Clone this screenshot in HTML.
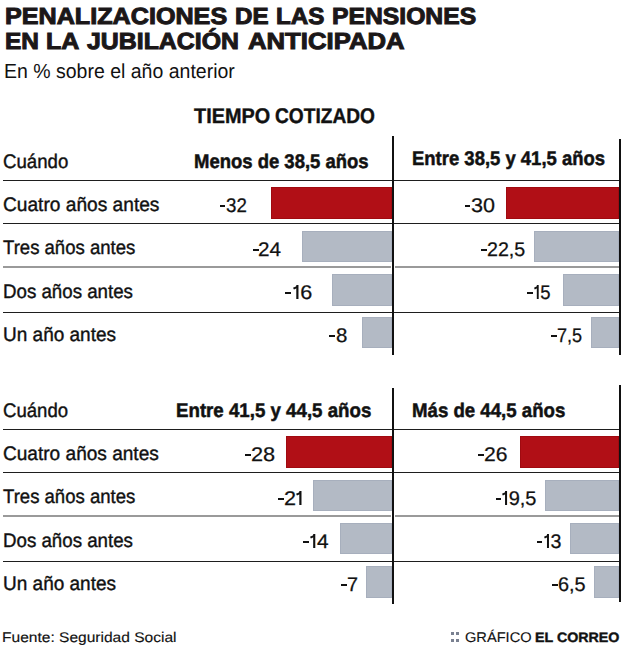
<!DOCTYPE html><html><head><meta charset="utf-8"><style>
*{margin:0;padding:0;box-sizing:border-box}
html,body{width:624px;height:646px;background:#fff;overflow:hidden}
body{position:relative;font-family:"Liberation Sans",sans-serif}
.t{position:absolute;text-rendering:geometricPrecision;white-space:nowrap;line-height:1;transform-origin:0 0}
.b{position:absolute}
.red{background:#b10f16;box-shadow:inset 0 0 0 1px #a00a10}
.gry{background:#b3bac5;box-shadow:inset 0 0 0 1px #a7afbd}
.hl{position:absolute;height:1px;background:#1e1e1e}
.gl{position:absolute;height:2px;background:#9a9a9a}
.sq{position:absolute;width:3px;height:3px;background:#7a8191}
.hy{position:absolute;background:#111}
.vl{position:absolute;width:2px;background:#111}
.one{display:inline-block;position:relative;width:6.6px;height:14px;vertical-align:baseline}
.one i{position:absolute;left:3.3px;bottom:0;width:2px;height:13.8px;background:currentColor}
.one b{position:absolute;left:-0.5px;bottom:11.95px;width:3.8px;height:1.7px;background:currentColor;transform:rotate(-25deg);transform-origin:100% 50%}

</style></head><body>
<div class="t" id="t1_0" style="left:4.92px;top:5.19px;font-size:23.40px;font-weight:700;color:#1b1718;transform:scaleX(1.0751);-webkit-text-stroke:1.00px #1b1718">PENALIZACIONES</div>
<div class="t" id="t1_1" style="left:235.47px;top:5.19px;font-size:23.40px;font-weight:700;color:#1b1718;transform:scaleX(1.0323);-webkit-text-stroke:1.00px #1b1718">DE</div>
<div class="t" id="t1_2" style="left:276.47px;top:5.19px;font-size:23.40px;font-weight:700;color:#1b1718;transform:scaleX(1.0351);-webkit-text-stroke:1.00px #1b1718">LAS</div>
<div class="t" id="t1_3" style="left:331.95px;top:5.19px;font-size:23.40px;font-weight:700;color:#1b1718;transform:scaleX(1.0563);-webkit-text-stroke:1.00px #1b1718">PENSIONES</div>
<div class="t" id="t2_0" style="left:4.95px;top:30.19px;font-size:23.40px;font-weight:700;color:#1b1718;transform:scaleX(1.0452);-webkit-text-stroke:1.00px #1b1718">EN</div>
<div class="t" id="t2_1" style="left:46.44px;top:30.19px;font-size:23.40px;font-weight:700;color:#1b1718;transform:scaleX(1.0672);-webkit-text-stroke:1.00px #1b1718">LA</div>
<div class="t" id="t2_2" style="left:87.02px;top:30.19px;font-size:23.40px;font-weight:700;color:#1b1718;transform:scaleX(1.0630);-webkit-text-stroke:1.00px #1b1718">JUBILACIÓN</div>
<div class="t" id="t2_3" style="left:247.96px;top:30.19px;font-size:23.40px;font-weight:700;color:#1b1718;transform:scaleX(1.0986);-webkit-text-stroke:1.00px #1b1718">ANTICIPADA</div>
<div class="t" id="sub" style="left:4.08px;top:61.77px;font-size:20.35px;font-weight:400;color:#111;transform:scaleX(0.9582);-webkit-text-stroke:0.00px #111">En % sobre el año anterior</div>
<div class="t" id="tc" style="left:194.00px;top:106.03px;font-size:21.22px;font-weight:700;color:#111;transform:scaleX(0.9358);-webkit-text-stroke:0.40px #111">TIEMPO</div>
<div class="t" id="tc2" style="left:274.54px;top:106.03px;font-size:21.22px;font-weight:700;color:#111;transform:scaleX(0.9019);-webkit-text-stroke:0.40px #111">COTIZADO</div>
<div class="t" id="c1" style="left:3.01px;top:153.39px;font-size:19.62px;font-weight:400;color:#111;transform:scaleX(0.9502);-webkit-text-stroke:0.40px #111">Cuándo</div>
<div class="t" id="h1" style="left:194.06px;top:153.26px;font-size:19.77px;font-weight:700;color:#111;transform:scaleX(0.9351);-webkit-text-stroke:0.50px #111">Menos de 38,5 años</div>
<div class="t" id="h2" style="left:411.57px;top:150.26px;font-size:19.77px;font-weight:700;color:#111;transform:scaleX(0.9346);-webkit-text-stroke:0.50px #111">Entre 38,5 y 41,5 años</div>
<div class="t" id="ra0" style="left:2.52px;top:196.39px;font-size:19.62px;font-weight:400;color:#111;transform:scaleX(0.9761);-webkit-text-stroke:0.40px #111">Cuatro años antes</div>
<div class="t" id="ra1" style="left:3.48px;top:239.39px;font-size:19.62px;font-weight:400;color:#111;transform:scaleX(0.9457);-webkit-text-stroke:0.40px #111">Tres años antes</div>
<div class="t" id="ra2" style="left:2.58px;top:283.39px;font-size:19.62px;font-weight:400;color:#111;transform:scaleX(0.9538);-webkit-text-stroke:0.40px #111">Dos años antes</div>
<div class="t" id="ra3" style="left:2.52px;top:326.39px;font-size:19.62px;font-weight:400;color:#111;transform:scaleX(0.9690);-webkit-text-stroke:0.40px #111">Un año antes</div>
<div class="t" id="vtl0" style="left:226.01px;top:197.26px;font-size:19.77px;font-weight:400;color:#111;transform:scaleX(0.9459);-webkit-text-stroke:0.25px #111">32</div>
<div class="t" id="vtl1" style="left:258.44px;top:241.26px;font-size:19.77px;font-weight:400;color:#111;transform:scaleX(1.0476);-webkit-text-stroke:0.25px #111">24</div>
<div class="t" id="vtl2" style="left:292.51px;top:284.26px;font-size:19.77px;font-weight:400;color:#111;transform:scaleX(1.0943);-webkit-text-stroke:0.25px #111"><span class="one"><i></i><b></b></span>6</div>
<div class="t" id="vtl3" style="left:336.42px;top:327.26px;font-size:19.77px;font-weight:400;color:#111;transform:scaleX(1.0335);-webkit-text-stroke:0.25px #111">8</div>
<div class="t" id="vtr0" style="left:470.87px;top:197.26px;font-size:19.77px;font-weight:400;color:#111;transform:scaleX(1.0910);-webkit-text-stroke:0.25px #111">30</div>
<div class="t" id="vtr1" style="left:487.26px;top:241.26px;font-size:19.77px;font-weight:400;color:#111;transform:scaleX(0.9949);-webkit-text-stroke:0.25px #111">22,5</div>
<div class="t" id="vtr2" style="left:533.87px;top:284.26px;font-size:19.77px;font-weight:400;color:#111;transform:scaleX(0.9378);-webkit-text-stroke:0.25px #111"><span class="one"><i></i><b></b></span>5</div>
<div class="t" id="vtr3" style="left:556.52px;top:327.26px;font-size:19.77px;font-weight:400;color:#111;transform:scaleX(0.9159);-webkit-text-stroke:0.25px #111">7,5</div>
<div class="t" id="c2" style="left:3.01px;top:402.39px;font-size:19.62px;font-weight:400;color:#111;transform:scaleX(0.9472);-webkit-text-stroke:0.40px #111">Cuándo</div>
<div class="t" id="h3" style="left:175.56px;top:402.26px;font-size:19.77px;font-weight:700;color:#111;transform:scaleX(0.9454);-webkit-text-stroke:0.50px #111">Entre 41,5 y 44,5 años</div>
<div class="t" id="h4" style="left:412.07px;top:402.26px;font-size:19.77px;font-weight:700;color:#111;transform:scaleX(0.9429);-webkit-text-stroke:0.50px #111">Más de 44,5 años</div>
<div class="t" id="rb0" style="left:2.52px;top:445.39px;font-size:19.62px;font-weight:400;color:#111;transform:scaleX(0.9723);-webkit-text-stroke:0.40px #111">Cuatro años antes</div>
<div class="t" id="rb1" style="left:3.48px;top:488.39px;font-size:19.62px;font-weight:400;color:#111;transform:scaleX(0.9457);-webkit-text-stroke:0.40px #111">Tres años antes</div>
<div class="t" id="rb2" style="left:2.58px;top:532.39px;font-size:19.62px;font-weight:400;color:#111;transform:scaleX(0.9538);-webkit-text-stroke:0.40px #111">Dos años antes</div>
<div class="t" id="rb3" style="left:2.52px;top:575.39px;font-size:19.62px;font-weight:400;color:#111;transform:scaleX(0.9690);-webkit-text-stroke:0.40px #111">Un año antes</div>
<div class="t" id="vbl0" style="left:250.90px;top:446.26px;font-size:19.77px;font-weight:400;color:#111;transform:scaleX(1.1000);-webkit-text-stroke:0.25px #111">28</div>
<div class="t" id="vbl1" style="left:283.89px;top:490.26px;font-size:19.77px;font-weight:400;color:#111;transform:scaleX(1.0936);-webkit-text-stroke:0.25px #111">2<span class="one"><i></i><b></b></span></div>
<div class="t" id="vbl2" style="left:310.01px;top:533.26px;font-size:19.77px;font-weight:400;color:#111;transform:scaleX(1.0571);-webkit-text-stroke:0.25px #111"><span class="one"><i></i><b></b></span>4</div>
<div class="t" id="vbl3" style="left:346.96px;top:576.26px;font-size:19.77px;font-weight:400;color:#111;transform:scaleX(1.0042);-webkit-text-stroke:0.25px #111">7</div>
<div class="t" id="vbr0" style="left:483.98px;top:446.26px;font-size:19.77px;font-weight:400;color:#111;transform:scaleX(1.0690);-webkit-text-stroke:0.25px #111">26</div>
<div class="t" id="vbr1" style="left:502.49px;top:490.26px;font-size:19.77px;font-weight:400;color:#111;transform:scaleX(1.0124);-webkit-text-stroke:0.25px #111"><span class="one"><i></i><b></b></span>9,5</div>
<div class="t" id="vbr2" style="left:543.51px;top:533.26px;font-size:19.77px;font-weight:400;color:#111;transform:scaleX(0.9931);-webkit-text-stroke:0.25px #111"><span class="one"><i></i><b></b></span>3</div>
<div class="t" id="vbr3" style="left:558.49px;top:576.26px;font-size:19.77px;font-weight:400;color:#111;transform:scaleX(1.0082);-webkit-text-stroke:0.25px #111">6,5</div>
<div class="t" id="src" style="left:2.44px;top:630.12px;font-size:14.03px;font-weight:400;color:#111;transform:scaleX(1.1090);-webkit-text-stroke:0.15px #111">Fuente: Seguridad Social</div>
<div class="t" id="gr" style="left:464.96px;top:630.12px;font-size:14.03px;font-weight:400;color:#111;transform:scaleX(1.0421);-webkit-text-stroke:0.15px #111">GRÁFICO</div>
<div class="t" id="ec" style="left:535.45px;top:631.43px;font-size:13.66px;font-weight:700;color:#111;transform:scaleX(1.0426);-webkit-text-stroke:0.40px #111">EL CORREO</div>
<div class="b red" style="left:271.3px;top:187.2px;width:121.0px;height:31.5px"></div>
<div class="b gry" style="left:302.1px;top:230.7px;width:90.2px;height:31.3px"></div>
<div class="b gry" style="left:332.2px;top:274.0px;width:60.1px;height:31.6px"></div>
<div class="b gry" style="left:362.1px;top:317.3px;width:30.2px;height:31.2px"></div>
<div class="b red" style="left:505.9px;top:187.2px;width:112.8px;height:31.5px"></div>
<div class="b gry" style="left:534.2px;top:230.7px;width:84.5px;height:31.3px"></div>
<div class="b gry" style="left:562.6px;top:274.0px;width:56.1px;height:31.6px"></div>
<div class="b gry" style="left:591.2px;top:317.3px;width:27.5px;height:31.2px"></div>
<div class="b red" style="left:286.4px;top:436.2px;width:105.9px;height:31.7px"></div>
<div class="b gry" style="left:313.2px;top:479.7px;width:79.1px;height:31.4px"></div>
<div class="b gry" style="left:339.7px;top:523.0px;width:52.6px;height:31.4px"></div>
<div class="b gry" style="left:366.1px;top:566.2px;width:26.2px;height:31.5px"></div>
<div class="b red" style="left:520.0px;top:436.2px;width:98.7px;height:31.7px"></div>
<div class="b gry" style="left:545.2px;top:479.7px;width:73.5px;height:31.4px"></div>
<div class="b gry" style="left:569.7px;top:523.0px;width:49.0px;height:31.4px"></div>
<div class="b gry" style="left:594.2px;top:566.2px;width:24.5px;height:31.5px"></div>
<div class="hl" style="left:3px;top:180px;width:617px"></div>
<div class="hl" style="left:3px;top:223px;width:617px"></div>
<div class="hl" style="left:3px;top:312px;width:617px"></div>
<div class="hl" style="left:3px;top:429px;width:617px"></div>
<div class="hl" style="left:3px;top:472px;width:617px"></div>
<div class="hl" style="left:3px;top:561px;width:617px"></div>
<div class="gl" style="left:3px;top:266px;width:388px"></div>
<div class="gl" style="left:395px;top:266px;width:224px"></div>
<div class="gl" style="left:3px;top:515px;width:388px"></div>
<div class="gl" style="left:395px;top:515px;width:224px"></div>
<div class="vl" style="left:392px;top:136px;height:219px"></div>
<div class="vl" style="left:619px;top:139px;height:216px"></div>
<div class="vl" style="left:392px;top:388px;height:216px"></div>
<div class="vl" style="left:619px;top:385px;height:217px"></div>
<div class="hy" style="left:219.5px;top:205.00px;width:5.7px;height:2.0px"></div>
<div class="hy" style="left:252.9px;top:249.00px;width:5.7px;height:2.0px"></div>
<div class="hy" style="left:285.2px;top:292.00px;width:5.7px;height:2.0px"></div>
<div class="hy" style="left:329.3px;top:335.00px;width:5.7px;height:2.0px"></div>
<div class="hy" style="left:464.7px;top:205.00px;width:5.7px;height:2.0px"></div>
<div class="hy" style="left:481.2px;top:249.00px;width:5.7px;height:2.0px"></div>
<div class="hy" style="left:526.9px;top:292.00px;width:5.7px;height:2.0px"></div>
<div class="hy" style="left:551.2px;top:335.00px;width:5.7px;height:2.0px"></div>
<div class="hy" style="left:245.2px;top:454.00px;width:5.7px;height:2.0px"></div>
<div class="hy" style="left:278.0px;top:498.00px;width:5.7px;height:2.0px"></div>
<div class="hy" style="left:303.3px;top:541.00px;width:5.7px;height:2.0px"></div>
<div class="hy" style="left:341.3px;top:584.00px;width:5.7px;height:2.0px"></div>
<div class="hy" style="left:478.4px;top:454.00px;width:5.7px;height:2.0px"></div>
<div class="hy" style="left:495.6px;top:498.00px;width:5.7px;height:2.0px"></div>
<div class="hy" style="left:536.8px;top:541.00px;width:5.7px;height:2.0px"></div>
<div class="hy" style="left:552.0px;top:584.00px;width:5.7px;height:2.0px"></div>
<div class="sq" style="left:451px;top:632px"></div>
<div class="sq" style="left:456px;top:632px"></div>
<div class="sq" style="left:451px;top:639px"></div>
<div class="sq" style="left:456px;top:639px"></div>
</body></html>
